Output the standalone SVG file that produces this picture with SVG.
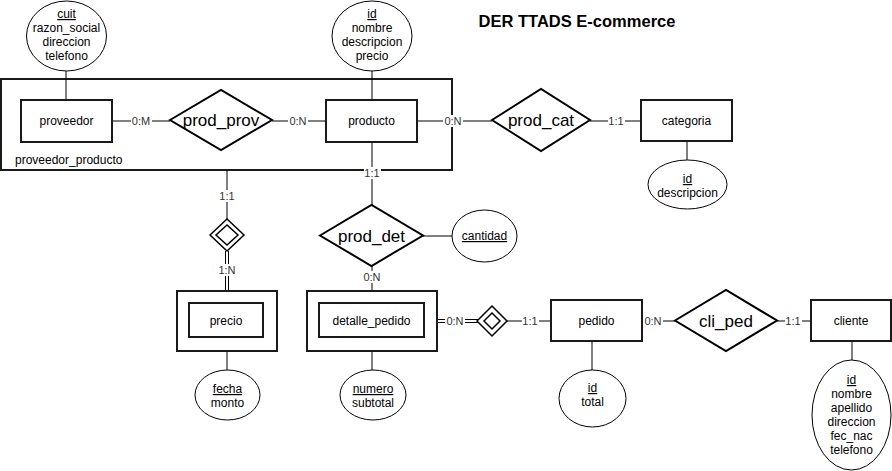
<svg xmlns="http://www.w3.org/2000/svg" width="892" height="471" viewBox="0 0 892 471">
<style>
text{font-family:"Liberation Sans",Arial,sans-serif;fill:#000}
.ent{fill:#fff;stroke:#1a1a1a;stroke-width:2}
.rel{fill:#fff;stroke:#000;stroke-width:2}
.att{fill:#fff;stroke:#000;stroke-width:1}
.ln{stroke:#000;stroke-width:1;fill:none}
.t12{font-size:12px;text-anchor:middle}
.t17{font-size:17px;text-anchor:middle}
.lb{font-size:11px;text-anchor:middle;fill:#333}
.bg{fill:#fff}
.u{text-decoration:underline}
</style>
<rect width="892" height="471" fill="#fff"/>
<text x="577" y="27" style="font-size:16.5px;font-weight:bold;text-anchor:middle">DER TTADS E-commerce</text>

<g id="proveedor_producto">
<rect class="ent" x="1" y="79" width="451" height="91"/>
<text x="15" y="164" style="font-size:12px">proveedor_producto</text>
</g>

<g id="connectors">
<line class="ln" x1="66" y1="71" x2="66" y2="100"/>
<line class="ln" x1="372" y1="71" x2="372" y2="100"/>
<line class="ln" x1="112" y1="121" x2="170" y2="121"/>
<line class="ln" x1="272" y1="121" x2="326" y2="121"/>
<line class="ln" x1="417" y1="121" x2="492" y2="121"/>
<line class="ln" x1="590" y1="121" x2="641" y2="121"/>
<line class="ln" x1="687" y1="141" x2="687" y2="160"/>
<line class="ln" x1="372" y1="142" x2="372" y2="205"/>
<line class="ln" x1="227" y1="170" x2="227" y2="219"/>
<line class="ln" x1="225.5" y1="251" x2="225.5" y2="291"/>
<line class="ln" x1="228.5" y1="251" x2="228.5" y2="291"/>
<line class="ln" x1="372" y1="266" x2="372" y2="291"/>
<line class="ln" x1="423" y1="236" x2="452" y2="236"/>
<line class="ln" x1="227" y1="351" x2="227" y2="370"/>
<line class="ln" x1="372" y1="351" x2="372" y2="370"/>
<line class="ln" x1="437" y1="319.5" x2="478" y2="319.5"/>
<line class="ln" x1="437" y1="322.5" x2="478" y2="322.5"/>
<line class="ln" x1="507" y1="321" x2="551" y2="321"/>
<line class="ln" x1="642" y1="321" x2="675" y2="321"/>
<line class="ln" x1="777" y1="321" x2="811" y2="321"/>
<line class="ln" x1="592" y1="341" x2="592" y2="370"/>
<line class="ln" x1="852" y1="341" x2="852" y2="360"/>
<rect class="bg" x="131" y="115" width="21" height="12"/><text class="lb" x="141" y="125">0:M</text>
<rect class="bg" x="288" y="115" width="20" height="12"/><text class="lb" x="298" y="125">0:N</text>
<rect class="bg" x="443" y="115" width="20" height="12"/><text class="lb" x="453" y="125">0:N</text>
<rect class="bg" x="608" y="115" width="17" height="12"/><text class="lb" x="616" y="125">1:1</text>
<rect class="bg" x="364" y="167" width="17" height="12"/><text class="lb" x="372" y="177">1:1</text>
<rect class="bg" x="219" y="190" width="17" height="12"/><text class="lb" x="227" y="200">1:1</text>
<rect class="bg" x="218" y="264" width="19" height="12"/><text class="lb" x="227" y="274">1:N</text>
<rect class="bg" x="362" y="271" width="20" height="12"/><text class="lb" x="372" y="281">0:N</text>
<rect class="bg" x="445" y="315" width="20" height="12"/><text class="lb" x="455" y="325">0:N</text>
<rect class="bg" x="522" y="315" width="17" height="12"/><text class="lb" x="530" y="325">1:1</text>
<rect class="bg" x="643" y="315" width="20" height="12"/><text class="lb" x="653" y="325">0:N</text>
<rect class="bg" x="785" y="315" width="17" height="12"/><text class="lb" x="793" y="325">1:1</text>
</g>

<g id="proveedor">
<rect class="ent" x="21" y="100" width="91" height="42"/>
<text class="t12" x="66.5" y="125">proveedor</text>
</g>
<g id="proveedor_attrs">
<ellipse class="att" cx="66.5" cy="36" rx="40" ry="35"/>
<text class="t12 u" x="66.5" y="18">cuit</text>
<text class="t12" x="66.5" y="32">razon_social</text>
<text class="t12" x="66.5" y="46">direccion</text>
<text class="t12" x="66.5" y="60">telefono</text>
</g>
<g id="prod_prov">
<polygon class="rel" points="170,120 221,90 272,120 221,150"/>
<text class="t17" x="221" y="126">prod_prov</text>
</g>
<g id="producto">
<rect class="ent" x="326" y="100" width="91" height="42"/>
<text class="t12" x="371.5" y="125">producto</text>
</g>
<g id="producto_attrs">
<ellipse class="att" cx="372" cy="36" rx="40" ry="35"/>
<text class="t12 u" x="372" y="18">id</text>
<text class="t12" x="372" y="32">nombre</text>
<text class="t12" x="372" y="46">descripcion</text>
<text class="t12" x="372" y="60">precio</text>
</g>
<g id="prod_cat">
<polygon class="rel" points="492,120 541,89 590,120 541,151"/>
<text class="t17" x="541" y="126">prod_cat</text>
</g>
<g id="categoria">
<rect class="ent" x="641" y="100" width="91" height="41"/>
<text class="t12" x="686.5" y="125">categoria</text>
</g>
<g id="categoria_attrs">
<ellipse class="att" cx="687.5" cy="184.5" rx="39.5" ry="24.5"/>
<text class="t12 u" x="687.5" y="183">id</text>
<text class="t12" x="687.5" y="197">descripcion</text>
</g>
<g id="precio_rel">
<polygon class="rel" points="210,235 227,219 244,235 227,251" style="stroke-width:1.5"/>
<polygon class="rel" points="216,235 227,225 238,235 227,245" style="stroke-width:1.5"/>
</g>
<g id="prod_det">
<polygon class="rel" points="320,235.5 371.5,205 423,235.5 371.5,266"/>
<text class="t17" x="371.5" y="242">prod_det</text>
</g>
<g id="cantidad">
<ellipse class="att" cx="484.5" cy="236" rx="32.5" ry="26"/>
<text class="t12 u" x="484.5" y="240">cantidad</text>
</g>
<g id="precio">
<rect class="ent" x="177" y="291" width="100" height="60"/>
<rect class="ent" x="189" y="303" width="74" height="34"/>
<text class="t12" x="226" y="325">precio</text>
</g>
<g id="precio_attrs">
<ellipse class="att" cx="227.5" cy="395" rx="32.5" ry="25"/>
<text class="t12 u" x="227.5" y="393">fecha</text>
<text class="t12" x="227.5" y="407">monto</text>
</g>
<g id="detalle_pedido">
<rect class="ent" x="307" y="291" width="130" height="60"/>
<rect class="ent" x="319" y="303" width="105" height="34"/>
<text class="t12" x="371.5" y="325">detalle_pedido</text>
</g>
<g id="detalle_attrs">
<ellipse class="att" cx="373" cy="395" rx="33" ry="25"/>
<text class="t12 u" x="373" y="393">numero</text>
<text class="t12" x="373" y="407">subtotal</text>
</g>
<g id="det_ped">
<polygon class="rel" points="477,321 492,306 507,321 492,336" style="stroke-width:1.5"/>
<polygon class="rel" points="484,321 492,313 500,321 492,329" style="stroke-width:1.5"/>
</g>
<g id="pedido">
<rect class="ent" x="551" y="300" width="91" height="41"/>
<text class="t12" x="596.5" y="325">pedido</text>
</g>
<g id="pedido_attrs">
<ellipse class="att" cx="592.5" cy="398.5" rx="33.5" ry="28.5"/>
<text class="t12 u" x="592.5" y="392">id</text>
<text class="t12" x="592.5" y="406">total</text>
</g>
<g id="cli_ped">
<polygon class="rel" points="675,320.5 726,290 777,320.5 726,351"/>
<text class="t17" x="726" y="327">cli_ped</text>
</g>
<g id="cliente">
<rect class="ent" x="811" y="300" width="80" height="41"/>
<text class="t12" x="851" y="325">cliente</text>
</g>
<g id="cliente_attrs">
<ellipse class="att" cx="851.5" cy="415" rx="39.5" ry="55"/>
<text class="t12 u" x="851.5" y="384">id</text>
<text class="t12" x="851.5" y="398">nombre</text>
<text class="t12" x="851.5" y="412">apellido</text>
<text class="t12" x="851.5" y="426">direccion</text>
<text class="t12" x="851.5" y="440">fec_nac</text>
<text class="t12" x="851.5" y="454">telefono</text>
</g>
</svg>
